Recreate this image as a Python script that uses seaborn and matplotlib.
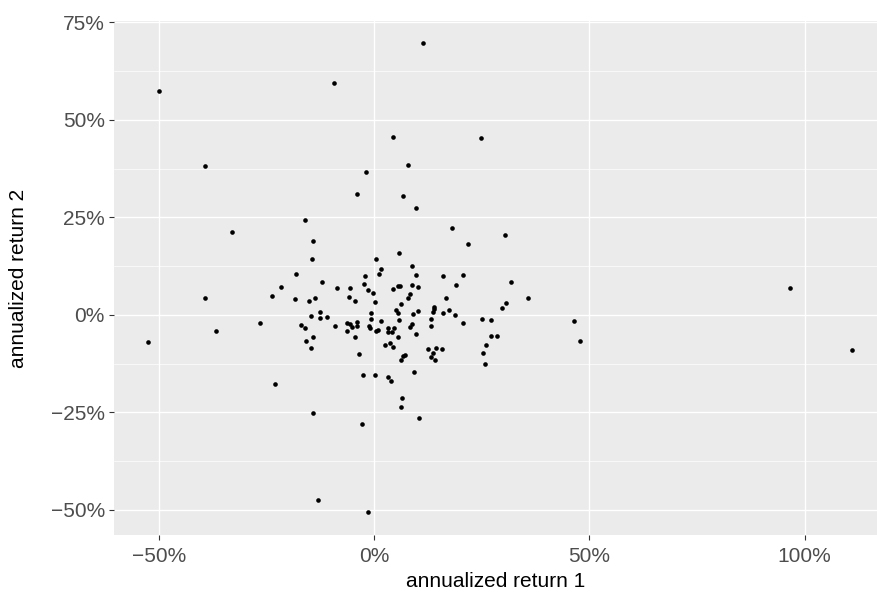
import matplotlib
matplotlib.use("Agg")
import matplotlib.pyplot as plt
from matplotlib.ticker import FixedLocator, MultipleLocator
import pandas as pd
import seaborn as sns

# ── Data (annualized returns, in %) ─────────────────────────────────────────
return_1 = [
    11.4, -50.0, -9.4, 4.3, 24.8, -39.2, 7.8, -1.8, -4.0, 6.8,
    9.7, -16.0, 18.0, -14.2, -14.5, 0.4, -18.2, -2.0, 1.6, 1.2,
    -12.0, -2.4, -21.7, -8.5, -5.5, -1.3, -0.2, -23.6, -18.4, -5.8,
    -13.8, -15.0, -4.5, 0.3, -12.6, -0.8, -14.7, -12.5, -11.0, -0.6,
    -26.6, -17.0, -16.0, -9.1, -6.3, -5.6, -5.1, -3.9, -3.9, -1.2,
    -0.9, 0.4, 0.8, -6.4, -15.8, -14.2, -4.5, -14.7, -3.4, -2.6,
    0.3, -23.1, -14.2, -2.7, 21.8, 5.9, 8.8, 9.8, 16.0, 20.6,
    19.0, 8.8, 10.3, 5.6, 6.1, 4.3, 8.4, 7.9, 16.6, 6.2,
    14.0, 13.9, 13.7, 5.0, 5.6, 10.1, 9.0, 17.5, 16.1, 18.7,
    20.7, 25.0, 27.1, 13.2, 5.8, 1.7, 13.2, 8.9, 8.3, 3.3,
    4.6, 3.3, 4.2, 5.6, 9.8, 2.6, 3.6, 4.5, 12.6, 14.3,
    15.7, 13.8, 13.2, 14.2, 7.1, 6.7, 6.2, 27.2, 28.6, 26.0,
    25.4, 25.8, 3.3, 4.0, 9.2, 6.4, 6.3, 10.5, 30.3, 31.7,
    35.7, 30.6, 29.7, -52.5, -39.2, -36.7, -33.0, 46.4, 47.8, 96.6,
    111.1, -13.0, -1.4,
]
return_2 = [
    69.7, 57.5, 59.4, 45.6, 45.4, 38.1, 38.4, 36.6, 31.1, 30.5,
    27.4, 24.3, 22.3, 19.0, 14.2, 14.4, 10.6, 10.0, 11.7, 10.4,
    8.3, 7.9, 7.2, 7.0, 7.0, 6.3, 5.5, 4.8, 4.1, 4.7,
    4.3, 3.5, 3.5, 3.3, 0.7, 0.5, -0.4, -0.9, -0.5, -1.1,
    -2.2, -2.7, -3.4, -2.8, -2.2, -2.4, -3.0, -1.7, -2.8, -2.9,
    -3.4, -4.1, -3.9, -4.2, -6.6, -5.7, -5.8, -8.6, -10.1, -15.5,
    -15.5, -17.8, -25.1, -28.0, 18.2, 15.9, 12.5, 10.3, 10.0, 10.1,
    7.7, 7.7, 7.2, 7.4, 7.4, 6.6, 5.3, 4.4, 4.2, 2.9,
    2.0, 1.4, 0.8, 1.3, 0.4, 1.1, 0.2, 1.3, 0.6, 0.0,
    -2.0, -1.1, -1.3, -1.1, -1.3, -1.6, -2.8, -2.3, -3.2, -3.3,
    -3.3, -4.5, -4.4, -5.6, -4.8, -7.8, -7.1, -8.3, -8.7, -8.5,
    -8.8, -9.9, -10.8, -11.5, -10.2, -10.5, -11.6, -5.5, -5.4, -7.6,
    -9.9, -12.7, -15.9, -17.0, -14.6, -21.3, -23.7, -26.4, 20.4, 8.4,
    4.2, 3.0, 1.8, -6.9, 4.3, -4.1, 21.2, -1.6, -6.7, 6.9,
    -9.0, -47.4, -50.5,
]

x_ticks = [-50, 0, 50, 100]
y_ticks = [-50, -25, 0, 25, 50, 75]


def pct_label(v):
    return f"{v:.0f}%".replace("-", "\u2212")


df = pd.DataFrame({"annualized return 1": return_1, "annualized return 2": return_2})

# ── ggplot-like styling ─────────────────────────────────────────────────────
sns.set_theme(style="darkgrid")
plt.rcParams["font.family"] = ["Liberation Sans", "DejaVu Sans"]

W, H = 877, 592
fig = plt.figure(figsize=(W / 100, H / 100), dpi=100)
left, right, top, bottom = 114, 877, 20.7, 535.3
ax = fig.add_axes([left / W, 1 - bottom / H, (right - left) / W, (bottom - top) / H])

sns.scatterplot(data=df, x="annualized return 1", y="annualized return 2",
                color="black", s=11, linewidth=0, ax=ax)

ax.set_facecolor("#EBEBEB")
for sp in ax.spines.values():
    sp.set_visible(False)

ax.set_xlim(-60.4, 116.8)
ax.set_ylim(-56.5, 75.4)

ax.xaxis.set_major_locator(FixedLocator(x_ticks))
ax.yaxis.set_major_locator(FixedLocator(y_ticks))
ax.yaxis.set_minor_locator(MultipleLocator(12.5))
ax.set_xticklabels([pct_label(v) for v in x_ticks])
ax.set_yticklabels([pct_label(v) for v in y_ticks])

ax.grid(False)
ax.grid(which="major", color="white", linewidth=1.0)
ax.grid(which="minor", axis="y", color="white", linewidth=0.5)
ax.set_axisbelow(True)

ax.tick_params(which="major", length=3.5, width=0.8, color="#333333",
               labelsize=15, labelcolor="#4D4D4D",
               bottom=True, left=True)
ax.tick_params(axis="x", which="major", pad=5)
ax.tick_params(axis="y", which="major", pad=3)
ax.tick_params(which="minor", length=0)

ax.set_xlabel("annualized return 1", fontsize=15, color="black", labelpad=4)
ax.set_ylabel("annualized return 2", fontsize=15, color="black", labelpad=16)

fig.savefig("out.png", dpi=100)
